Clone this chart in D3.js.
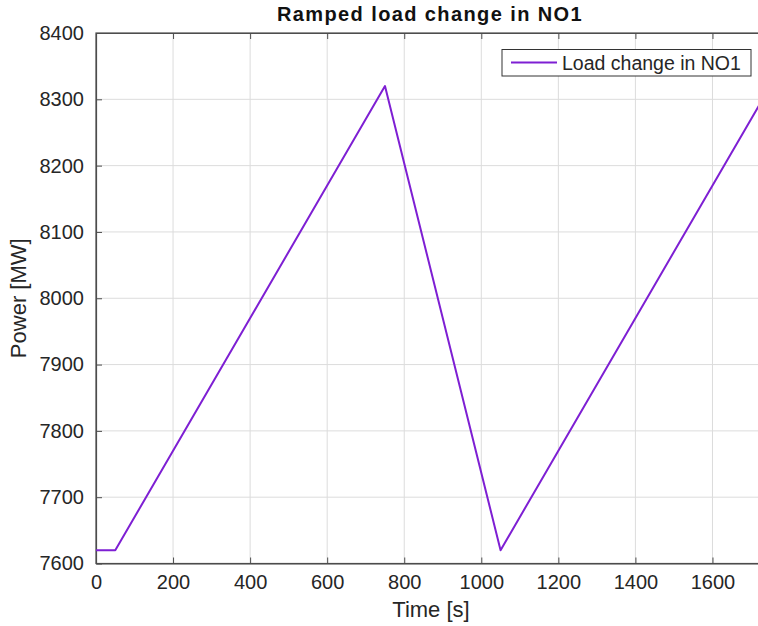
<!DOCTYPE html>
<html>
<head>
<meta charset="utf-8">
<script src="https://cdn.jsdelivr.net/npm/d3@7"></script>
<style>
  html, body { margin: 0; padding: 0; background: #ffffff; }
  svg { display: block; font-family: "Liberation Sans", Arial, sans-serif; }
</style>
</head>
<body>
<svg id="chart" width="758" height="626"></svg>
<script>
// Load profile in NO1: time [s] and power [MW]
const timeS = [0, 50, 750, 1050, 1730];
const powerMW = [7620, 7620, 8320, 7620, 8300];
const xTicks = [0, 200, 400, 600, 800, 1000, 1200, 1400, 1600];
const yTicks = [7600, 7700, 7800, 7900, 8000, 8100, 8200, 8300, 8400];
const seriesName = "Load change in NO1";

const svg = d3.select("#chart");
const plotLeft = 96, plotTop = 33, plotBottom = 563.5;
const xMax = 1730;
const pxPerUnit = 0.3853;
const plotRight = plotLeft + xMax * pxPerUnit;

const x = d3.scaleLinear().domain([0, xMax]).range([plotLeft, plotRight]);
const y = d3.scaleLinear().domain([7600, 8400]).range([plotBottom, plotTop]);

const textColor = "#262626";
const axisColor = "#4d4d4d";
const lineColor = "#7e1fd3";

// grid
const grid = svg.append("g");
grid.selectAll("line.vx").data(xTicks.slice(1)).join("line")
  .attr("x1", d => x(d)).attr("x2", d => x(d))
  .attr("y1", plotTop).attr("y2", plotBottom)
  .attr("stroke", "#dcdcdc").attr("stroke-width", 1);
grid.selectAll("line.hy").data(yTicks.slice(1, -1)).join("line")
  .attr("x1", plotLeft).attr("x2", plotRight)
  .attr("y1", d => y(d)).attr("y2", d => y(d))
  .attr("stroke", "#dcdcdc").attr("stroke-width", 1);

// frame
svg.append("rect")
  .attr("x", plotLeft).attr("y", plotTop)
  .attr("width", plotRight - plotLeft).attr("height", plotBottom - plotTop)
  .attr("fill", "none").attr("stroke", axisColor).attr("stroke-width", 1.2);

// axes with inward ticks
const fmt = d3.format("d");
const xAxis = d3.axisBottom(x).tickValues(xTicks).tickFormat(fmt).tickSizeInner(-6).tickSizeOuter(0).tickPadding(11);
const gx = svg.append("g").attr("transform", `translate(0,${plotBottom})`).call(xAxis);
const xTop = d3.axisTop(x).tickValues(xTicks).tickSizeInner(-6).tickSizeOuter(0).tickFormat("");
const gxt = svg.append("g").attr("transform", `translate(0,${plotTop})`).call(xTop);
const yAxis = d3.axisLeft(y).tickValues(yTicks).tickFormat(fmt).tickSizeInner(-6).tickSizeOuter(0).tickPadding(12);
const gy = svg.append("g").attr("transform", `translate(${plotLeft},0)`).call(yAxis);

[gx, gxt, gy].forEach(g => {
  g.select(".domain").attr("stroke", axisColor).attr("stroke-width", 1.2);
  g.selectAll(".tick line").attr("stroke", axisColor);
  g.selectAll(".tick text").attr("fill", textColor)
    .style("font-size", "20px").style("font-family", "Liberation Sans, Arial, sans-serif");
});
gx.selectAll(".tick text").attr("dy", "0.71em");

// line
svg.append("path")
  .datum(timeS.map((t, i) => [t, powerMW[i]]))
  .attr("fill", "none")
  .attr("stroke", lineColor)
  .attr("stroke-width", 2)
  .attr("stroke-linejoin", "round")
  .attr("d", d3.line().x(d => x(d[0])).y(d => y(d[1])));

// title and axis labels
svg.append("text").attr("x", 430).attr("y", 21).attr("text-anchor", "middle")
  .attr("fill", "#111").style("font-size", "20px").style("font-weight", "bold")
  .style("letter-spacing", "1.4px")
  .text("Ramped load change in NO1");
svg.append("text").attr("x", 431).attr("y", 616.5).attr("text-anchor", "middle")
  .attr("fill", textColor).style("font-size", "22px").text("Time [s]");
svg.append("text").attr("transform", `translate(26,${(plotTop + plotBottom) / 2}) rotate(-90)`)
  .attr("text-anchor", "middle").attr("fill", textColor).style("font-size", "22px")
  .text("Power [MW]");

// legend
const lg = svg.append("g");
lg.append("rect").attr("x", 502).attr("y", 49.5).attr("width", 249).attr("height", 26.5)
  .attr("fill", "#fff").attr("stroke", "#333").attr("stroke-width", 1);
lg.append("line").attr("x1", 511).attr("x2", 557).attr("y1", 62.5).attr("y2", 62.5)
  .attr("stroke", lineColor).attr("stroke-width", 2);
lg.append("text").attr("x", 562).attr("y", 69.5).attr("fill", textColor)
  .style("font-size", "19.5px").text(seriesName);
</script>
</body>
</html>
